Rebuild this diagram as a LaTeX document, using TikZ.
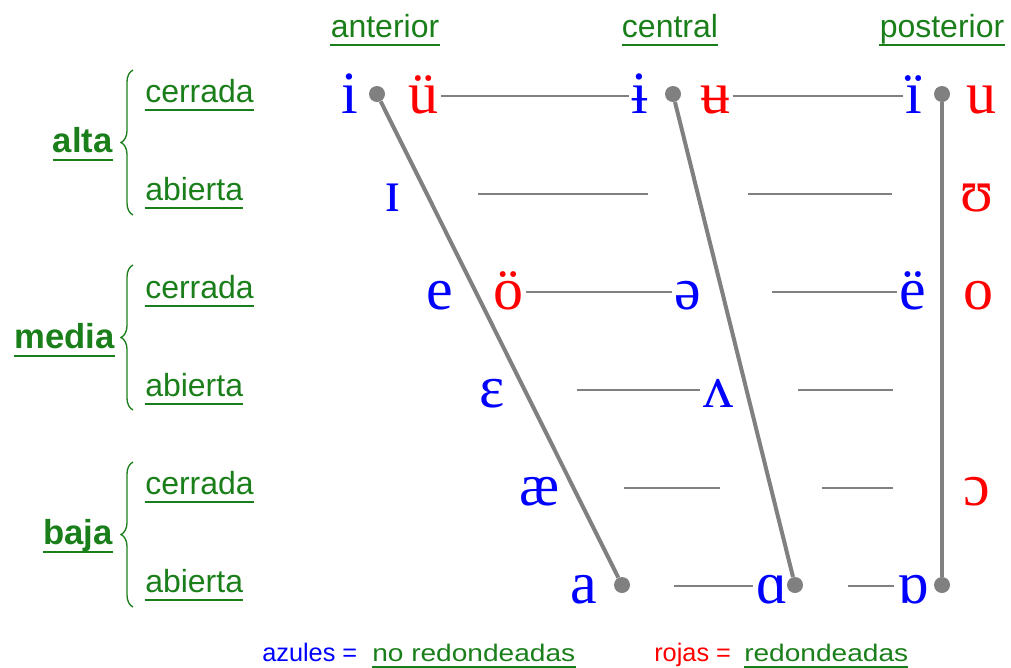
\documentclass[tikz,border=0pt]{standalone}
\usepackage{fontspec}
\setmainfont{Liberation Serif}
\setsansfont{Liberation Sans}
\usepackage{tikz}
\usetikzlibrary{decorations.pathreplacing}
\definecolor{vblue}{HTML}{0000FF}
\definecolor{vred}{HTML}{FF0000}
\definecolor{lgreen}{HTML}{1A7F1A}
\definecolor{lgray}{HTML}{808080}
\tikzset{
  vowel/.style={font=\fontsize{45}{50}\selectfont, inner xsep=2pt, inner ysep=0pt, text height=25.5pt, text depth=0pt, anchor=base},
  unr/.style={vowel, text=vblue},
  rnd/.style={vowel, text=vred},
  ul/.style={inner sep=0pt, text depth=6pt, append after command={(\tikzlastnode.south west) edge[draw=lgreen, line width=1.4pt] (\tikzlastnode.south east)}},
  header/.style={ul, text=lgreen, font=\sffamily\fontsize{24}{28}\selectfont, anchor=base},
  grade/.style={ul, text=lgreen, font=\sffamily\fontsize{24}{28}\selectfont, anchor=base west},
  height/.style={ul, text=lgreen, font=\sffamily\bfseries\fontsize{26}{30}\selectfont, anchor=base east},
  legend/.style={inner sep=0pt, font=\sffamily\fontsize{19}{23}\selectfont, anchor=base west},
  legendul/.style={legend, ul, text depth=4pt, text=lgreen, font=\sffamily\fontsize{18}{22}\selectfont\addfontfeature{FakeStretch=1.17}},
  brace/.style={draw=lgreen, line width=1pt, decorate, decoration={brace, amplitude=9pt}},
  dot/.style={circle, fill=lgray, minimum size=12pt, inner sep=0pt},
  diag/.style={draw=lgray, line width=3pt},
  hline/.style={draw=lgray, line width=1.4pt}
}
\begin{document}
\begin{tikzpicture}[x=0.75pt, y=-0.75pt]
  \useasboundingbox (0,0) rectangle (1011,668);

  \node[header] (anterior) at (385,37) {anterior};
  \node[header] (central) at (670,37) {central};
  \node[header] (posterior) at (942,37) {posterior};

  \node[height] (alta) at (113,152) {alta};
  \node[height] (media) at (115,348) {media};
  \node[height] (baja) at (113,544) {baja};

  \node[grade] (cer1) at (145,102) {cerrada};
  \node[grade] (abi1) at (145,200) {abierta};
  \node[grade] (cer2) at (145,298) {cerrada};
  \node[grade] (abi2) at (145,396) {abierta};
  \node[grade] (cer3) at (145,494) {cerrada};
  \node[grade] (abi3) at (145,592) {abierta};

  \draw[brace] (133,215) -- (133,70);
  \draw[brace] (133,410) -- (133,265);
  \draw[brace] (133,607) -- (133,462);

  \node[unr] (vi) at (350,113) {i};
  \node[rnd] (vuu) at (423,113) {ü};
  \node[unr] (vib) at (640,113) {ɨ};
  \node[rnd] (vub) at (715,113) {ʉ};
  \node[unr] (vid) at (914,113) {ï};
  \node[rnd] (vu) at (981,113) {u};

  \node[unr] (vsi) at (393,211) {ɪ};
  \node[rnd] (vsu) at (977,211) {ʊ};

  \node[unr] (ve) at (440,309) {e};
  \node[rnd] (voo) at (508,309) {ö};
  \node[unr] (vschwa) at (688,309) {ə};
  \node[unr] (ved) at (913,309) {ë};
  \node[rnd] (vo) at (978,309) {o};

  \node[unr] (veps) at (492,407) {ɛ};
  \node[unr] (vturnv) at (718,407) {ʌ};

  \node[unr] (vae) at (540,505) {æ};
  \node[rnd] (vopeno) at (977,505) {ɔ};

  \node[unr] (va) at (584,603) {a};
  \node[unr] (valpha) at (772,603) {ɑ};
  \node[unr] (vturna) at (913,603) {ɒ};

  \coordinate (h2a) at (478,194);
  \coordinate (h2b) at (648,194);
  \coordinate (h2c) at (748,194);
  \coordinate (h2d) at (892,194);
  \coordinate (h3c) at (772,292);
  \coordinate (h4a) at (577,390);
  \coordinate (h4c) at (798,390);
  \coordinate (h4d) at (893,390);
  \coordinate (h5a) at (624,488);
  \coordinate (h5b) at (720,488);
  \coordinate (h5c) at (822,488);
  \coordinate (h5d) at (893,488);
  \coordinate (h6a) at (674,586);
  \coordinate (h6c) at (848,586);

  \draw[hline] (vuu.east) -- (vib.west);
  \draw[hline] (vub.east) -- (vid.west);
  \draw[hline] (h2a) -- (h2b);
  \draw[hline] (h2c) -- (h2d);
  \draw[hline] (voo.east) -- (vschwa.west);
  \draw[hline] (h3c) -- (ved.west);
  \draw[hline] (h4a) -- (vturnv.west);
  \draw[hline] (h4c) -- (h4d);
  \draw[hline] (h5a) -- (h5b);
  \draw[hline] (h5c) -- (h5d);
  \draw[hline] (h6a) -- (valpha.west);
  \draw[hline] (h6c) -- (vturna.west);

  \node[dot] (dfront) at (377,94) {};
  \node[dot] (dcentral) at (673,94) {};
  \node[dot] (dback) at (942,94) {};
  \node[dot] (dfronta) at (622,585) {};
  \node[dot] (dcentrala) at (795,585) {};
  \node[dot] (dbacka) at (942,585) {};

  \draw[diag] (dfront) -- (dfronta);
  \draw[diag] (dcentral) -- (dcentrala);
  \draw[diag] (dback) -- (dbacka);

  \node[legend, text=vblue] (azules) at (262,661) {azules =};
  \node[legendul] (nored) at (372,661) {no redondeadas};
  \node[legend, text=vred] (rojas) at (654,661) {rojas =};
  \node[legendul] (red) at (744,661) {redondeadas};
\end{tikzpicture}
\end{document}
